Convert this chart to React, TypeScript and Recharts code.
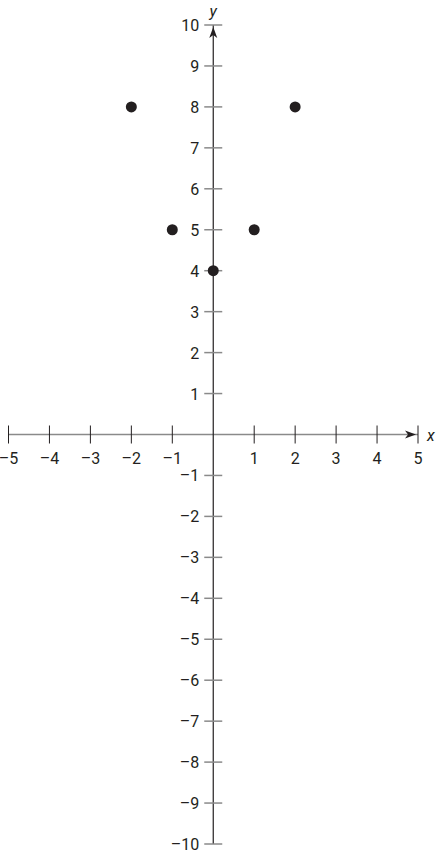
import React from 'react';
import { ScatterChart, Scatter, XAxis, YAxis, ReferenceLine, ReferenceDot } from 'recharts';

const points = [
  { x: -2, y: 8 },
  { x: -1, y: 5 },
  { x: 0, y: 4 },
  { x: 1, y: 5 },
  { x: 2, y: 8 },
];

const xTicks = [-5, -4, -3, -2, -1, 1, 2, 3, 4, 5];
const yTicks = [10, 9, 8, 7, 6, 5, 4, 3, 2, 1, -1, -2, -3, -4, -5, -6, -7, -8, -9, -10];

const INK = '#231f20';
const GREY = '#8a8a8a';
const FONT = 'Roboto, "Liberation Sans", Arial, sans-serif';

const fmt = (v: number) => (v < 0 ? `\u2013${Math.abs(v)}` : `${v}`);

const XTick = (props: any) => {
  const { cx, cy, value } = props;
  return (
    <g>
      <line x1={cx} y1={cy - 9} x2={cx} y2={cy + 9} stroke={INK} strokeWidth={1} />
      <text x={cx} y={cy + 29} textAnchor="middle" fontSize={16} fontFamily={FONT} fill={INK}>
        {fmt(value)}
      </text>
    </g>
  );
};

const YTick = (props: any) => {
  const { cx, cy, value } = props;
  return (
    <g>
      <line x1={cx - 9} y1={cy} x2={cx + 9} y2={cy} stroke={GREY} strokeWidth={1.5} />
      <text x={cx - 14} y={cy + 6} textAnchor="end" fontSize={16} fontFamily={FONT} fill={INK}>
        {fmt(value)}
      </text>
    </g>
  );
};

const XArrow = (props: any) => {
  const { cx, cy } = props;
  return (
    <g>
      <path d={`M${cx - 2},${cy} L${cx - 13},${cy - 4} L${cx - 10},${cy} L${cx - 13},${cy + 4} Z`} fill={INK} />
      <text x={cx + 9} y={cy + 6} fontSize={16} fontStyle="italic" fontFamily={FONT} fill={INK}>
        x
      </text>
    </g>
  );
};

const YArrow = (props: any) => {
  const { cx, cy } = props;
  return (
    <g>
      <path d={`M${cx},${cy + 2} L${cx - 4},${cy + 13} L${cx},${cy + 10} L${cx + 4},${cy + 13} Z`} fill={INK} />
      <text x={cx} y={cy - 8} textAnchor="middle" fontSize={16} fontStyle="italic" fontFamily={FONT} fill={INK}>
        y
      </text>
    </g>
  );
};

export default function App() {
  return (
    <div style={{ position: 'absolute', left: 0, top: 0, width: 437, height: 857, background: '#fff' }}>
      <ScatterChart width={437} height={857} margin={{ top: 25, right: 19, bottom: 13, left: 8.5 }}>
        <XAxis type="number" dataKey="x" domain={[-5, 5]} hide />
        <YAxis type="number" dataKey="y" domain={[-10, 10]} hide />
        <ReferenceLine y={0} stroke={GREY} strokeWidth={1.5} ifOverflow="visible" />
        <ReferenceLine x={0} stroke={INK} strokeWidth={1.2} ifOverflow="visible" />
        {xTicks.map((t) => (
          <ReferenceDot key={`x${t}`} x={t} y={0} r={0} ifOverflow="visible" shape={(p: any) => <XTick {...p} value={t} />} />
        ))}
        {yTicks.map((t) => (
          <ReferenceDot key={`y${t}`} x={0} y={t} r={0} ifOverflow="visible" shape={(p: any) => <YTick {...p} value={t} />} />
        ))}
        <ReferenceDot x={5} y={0} r={0} ifOverflow="visible" shape={(p: any) => <XArrow {...p} />} />
        <ReferenceDot x={0} y={10} r={0} ifOverflow="visible" shape={(p: any) => <YArrow {...p} />} />
        <Scatter data={points} fill={INK} isAnimationActive={false} shape={(p: any) => <circle cx={p.cx} cy={p.cy} r={5.5} fill={INK} />} />
      </ScatterChart>
    </div>
  );
}
